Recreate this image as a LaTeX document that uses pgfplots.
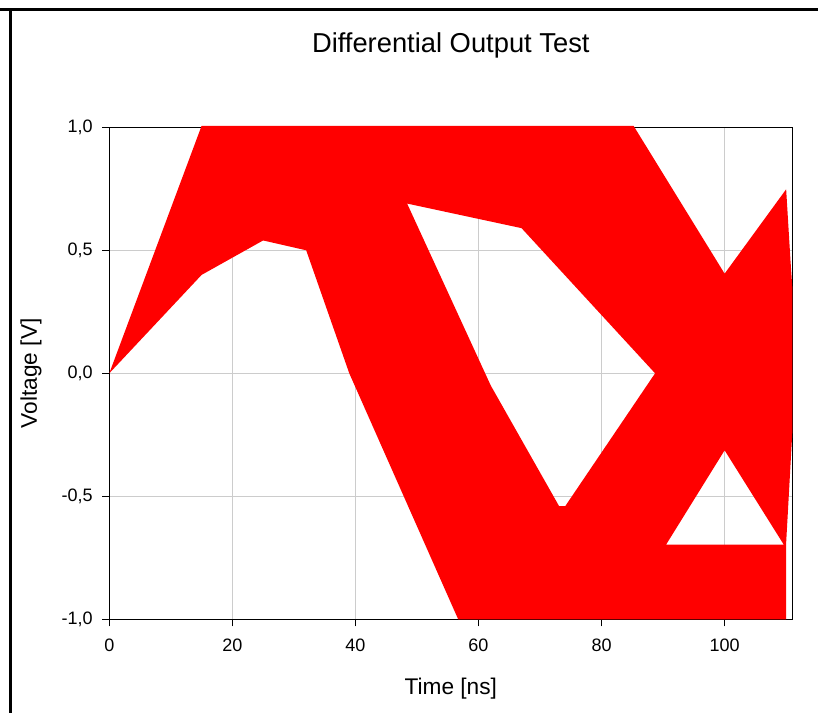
\documentclass[border=0pt]{standalone}
\usepackage{pgfplots}
\pgfplotsset{compat=1.18}
\usepackage{fontspec}
\setmainfont{Liberation Sans}

\begin{document}
\begin{tikzpicture}
\useasboundingbox (-81.975pt,-70.275pt) rectangle (531.525pt,464.475pt);
% outer frame, left and top only
\fill[black] (-81.975pt,456.225pt) rectangle (531.525pt,458.475pt);
\fill[black] (-75.225pt,-70.275pt) rectangle (-72.975pt,458.475pt);
\begin{axis}[
  at={(0,0)}, anchor=south west,
  scale only axis, width=512.25pt, height=369pt,
  xmin=0, xmax=111, ymin=-1, ymax=1,
  xtick={0,20,...,100}, xticklabels={0,20,40,60,80,100},
  ytick={-1,-0.5,0,0.5,1},
  yticklabels={{-1,0},{-0,5},{0,0},{0,5},{1,0}},
  xtick pos=bottom, ytick pos=left,
  grid=major, grid style={draw=black!20, line width=0.75pt},
  tick align=outside, major tick length=5.25pt,
  tick style={black, line width=0.75pt},
  axis line style={line width=0.75pt},
  ticklabel style={font=\fontsize{13.5}{16}\selectfont},
  xticklabel style={yshift=-6pt},
  yticklabel style={xshift=-3.75pt},
  xlabel={Time [ns]}, ylabel={Voltage [V]},
  label style={font=\fontsize{17}{20}\selectfont},
  xlabel style={at={(axis description cs:0.5,-0.1402)}, anchor=center},
  ylabel style={at={(axis description cs:-0.1146,0.5)}, anchor=center},
  title={Differential Output Test},
  title style={at={(axis description cs:0.5,1.1504)}, anchor=center,
    font=\fontsize{20.5}{24}\selectfont},
  clip=false,
]
% eye diagram envelope: outer outline with two openings (bridged)
\addplot[fill=red, draw=none, even odd rule] coordinates {
  (0,0) (15,1.006) (85.2,1.006)
  (67,0.59) (48.4,0.69) (62,-0.05)
  (73.1,-0.54) (74.1,-0.54) (88.7,0) (67,0.59)
  (85.2,1.006) (100,0.405)
  (100,-0.313) (90.5,-0.696) (109.6,-0.696) (100,-0.313)
  (100,0.405) (110,0.748) (110.7,0.46) (111,0.35) (111,-0.24)
  (110,-0.69) (110,-1) (56.7,-1) (39,0)
  (32,0.5) (25,0.54) (15,0.4) (0,0)
};
\end{axis}
\end{tikzpicture}
\end{document}
